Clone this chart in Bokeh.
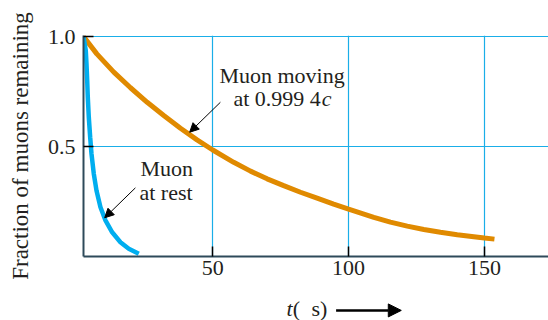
from bokeh.plotting import figure
from bokeh.layouts import column
from bokeh.models import (ColumnDataSource, Range1d, FixedTicker, Label, Arrow,
                          NormalHead)
from bokeh.embed import file_html
from bokeh.resources import INLINE

# Fraction of muons remaining versus time (microseconds)
moving_t = [2.4, 7.3, 13.55, 19.7, 25.85, 31.95, 38.1, 44.2, 50.0, 57.7, 63.9,
            70.0, 76.1, 82.3, 88.4, 94.5, 100.0, 109.3, 115.4, 121.6, 127.7,
            133.8, 140.0, 146.1, 150.0, 153.7]
moving_frac = [1.0, 0.921, 0.838, 0.767, 0.701, 0.641, 0.583, 0.530, 0.484,
               0.428, 0.388, 0.353, 0.322, 0.292, 0.265, 0.238, 0.215, 0.178,
               0.156, 0.138, 0.123, 0.110, 0.099, 0.090, 0.084, 0.079]

rest_t = [2.4, 3.24, 3.5, 3.76, 3.98, 4.35, 4.86, 5.34, 6.19, 7.18, 8.65,
          10.49, 12.96, 16.0, 19.07, 22.75]
rest_frac = [1.0, 0.936, 0.876, 0.800, 0.724, 0.633, 0.542, 0.467, 0.376,
             0.300, 0.224, 0.164, 0.110, 0.065, 0.035, 0.012]

x_ticks = [50, 100, 150]
x_tick_labels = ["50", "100", "150"]
y_ticks = [0.5, 1.0]
y_tick_labels = ["0.5", "1.0"]

SERIF = "Liberation Serif"
FS = "22px"
INK = "#231F20"
GRID = "#1AAEE8"
ORANGE = "#E08A00"
CYAN = "#00AEEF"
AXIS = "#2E4A5A"

x_range = Range1d(2.4, 173.6)

# frame is 221 px tall: 220 px for 0..1 plus one pixel so the top grid line shows
p = figure(width=548, height=292, output_backend="svg", toolbar_location=None,
           x_range=x_range, y_range=Range1d(0, 221 / 220),
           min_border_left=83, min_border_right=0, min_border_top=35,
           min_border_bottom=36)
p.outline_line_color = None
p.background_fill_color = "white"
p.border_fill_color = "white"

# grid
p.xgrid.ticker = FixedTicker(ticks=x_ticks)
p.ygrid.ticker = FixedTicker(ticks=y_ticks)
for g in (p.xgrid, p.ygrid):
    g.grid_line_color = GRID
    g.grid_line_width = 1.2

# axes
p.xaxis.ticker = FixedTicker(ticks=x_ticks)
p.yaxis.ticker = FixedTicker(ticks=y_ticks)
p.xaxis.major_label_overrides = dict(zip(x_ticks, x_tick_labels))
p.yaxis.major_label_overrides = dict(zip(y_ticks, y_tick_labels))
for ax in (p.xaxis, p.yaxis):
    ax.axis_line_color = AXIS
    ax.axis_line_width = 2
    ax.major_tick_in = 10
    ax.major_tick_out = 0
    ax.major_tick_line_color = "black"
    ax.major_tick_line_width = 1.5
    ax.minor_tick_line_color = None
    ax.major_label_text_font = SERIF
    ax.major_label_text_font_size = FS
    ax.major_label_text_color = INK
p.xaxis.major_label_standoff = 4
p.yaxis.major_label_standoff = 8
p.yaxis.axis_label = "Fraction of muons remaining"
p.yaxis.axis_label_text_font = SERIF
p.yaxis.axis_label_text_font_size = "23px"
p.yaxis.axis_label_text_font_style = "normal"
p.yaxis.axis_label_text_color = INK
p.yaxis.axis_label_standoff = 12

# decay curves
moving = ColumnDataSource(dict(t=moving_t, f=moving_frac))
rest = ColumnDataSource(dict(t=rest_t, f=rest_frac))
p.line("t", "f", source=moving, line_color=ORANGE, line_width=5)
p.line("t", "f", source=rest, line_color=CYAN, line_width=4.5)


def label(fig, x, y, text, style="normal", align="left"):
    fig.add_layout(Label(x=x, y=y, text=text, text_font=SERIF,
                         text_font_size=FS, text_color=INK,
                         text_font_style=style, text_align=align,
                         text_baseline="alphabetic"))


label(p, 75.5, 0.822, "Muon moving", align="center")
label(p, 57.6, 0.716, "at 0.999 4")
label(p, 90.1, 0.716, "c", style="italic")
label(p, 23.4, 0.401, "Muon")
label(p, 23.0, 0.290, "at rest")

p.add_layout(Arrow(end=NormalHead(size=9, fill_color="black", line_color="black"),
                   x_start=52.8, y_start=0.701, x_end=41.5, y_end=0.565,
                   line_color="black", line_width=1))
p.add_layout(Arrow(end=NormalHead(size=9, fill_color="black", line_color="black"),
                   x_start=21.5, y_start=0.312, x_end=10.2, y_end=0.176,
                   line_color="black", line_width=1))

# strip beneath the chart holding the time-axis title and its arrow
q = figure(width=548, height=28, output_backend="svg", toolbar_location=None,
           x_range=x_range, y_range=Range1d(0, 1.0),
           x_axis_type=None, y_axis_type=None,
           min_border_left=83, min_border_right=0, min_border_top=0,
           min_border_bottom=0)
q.outline_line_color = None
q.xgrid.visible = False
q.ygrid.visible = False
q.background_fill_color = "white"
q.border_fill_color = "white"

label(q, 77.1, 0.43, "t", style="italic")
label(q, 79.4, 0.43, "(")
label(q, 86.3, 0.43, "s)")
q.add_layout(Arrow(end=NormalHead(size=13, fill_color="black", line_color="black"),
                   x_start=95.4, y_start=0.36, x_end=119.4, y_end=0.36,
                   line_color="black", line_width=2.5))

layout = column(p, q, spacing=0)
open("out.html", "w").write(file_html(layout, INLINE))
